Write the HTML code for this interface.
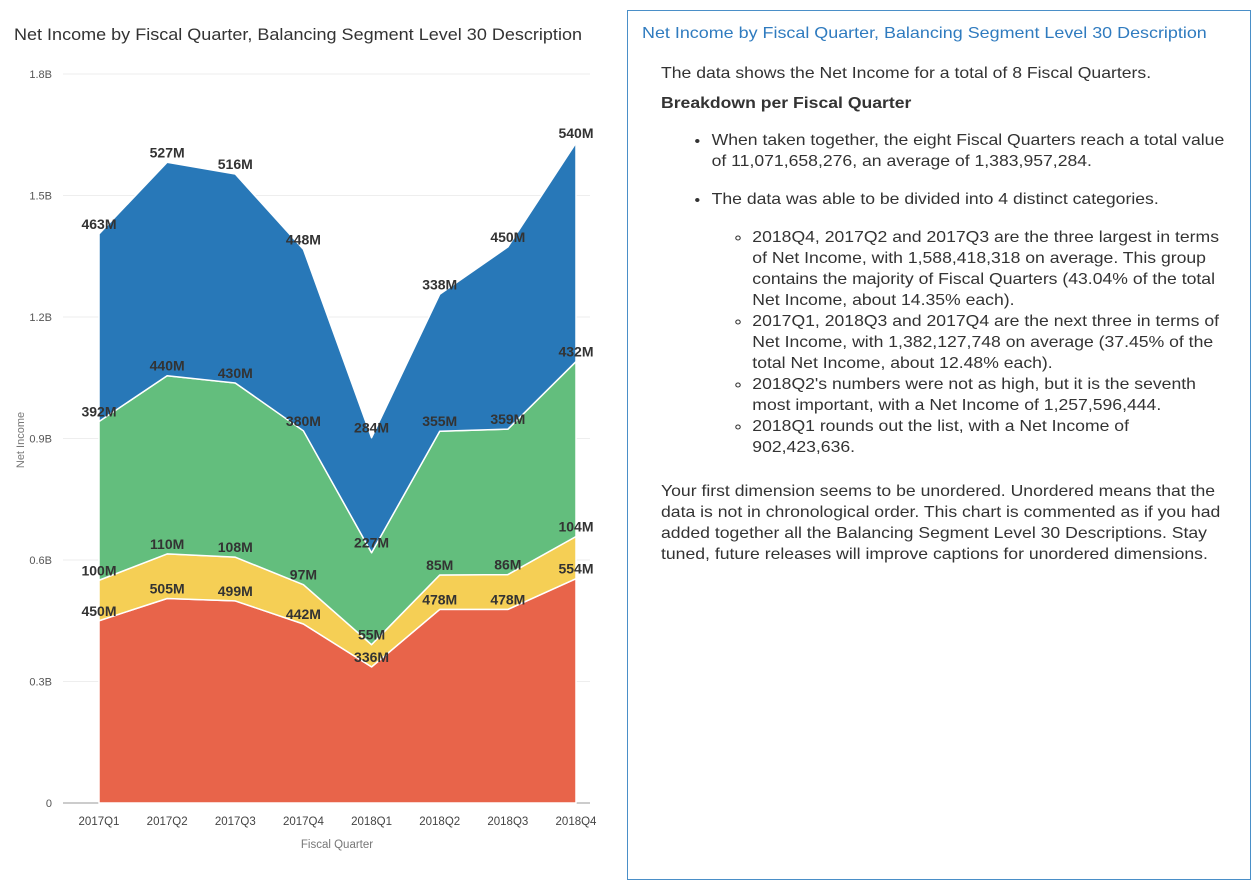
<!DOCTYPE html>
<html><head><meta charset="utf-8"><style>
body{margin:0;width:1256px;height:866px;background:#fff;overflow:hidden;font-family:"Liberation Sans",sans-serif;position:relative}
#panel{position:absolute;left:627px;top:10px;width:624px;height:870px;border:1.5px solid #4a8fc8;box-sizing:border-box;color:#333;font-size:16px;line-height:21px}
#panel .ttl{position:absolute;left:14px;top:12px;color:#2f7bbf;font-size:16px;transform:scaleX(1.12);transform-origin:0 0;white-space:nowrap}
#panel .body{position:absolute;left:33px;top:52px;width:527px;transform:scaleX(1.1);transform-origin:0 0}
#panel p{margin:0 0 9px 0}
#panel ul{margin:0 0 23px 0;padding-left:46px}
#panel ul li{margin-bottom:17px}
#panel ul ul{margin:17px 0 0 0;padding-left:37px;padding-right:6px;list-style:circle}
#panel ul ul li{margin:0}
</style></head><body>
<svg id="chart" width="620" height="866" style="position:absolute;left:0;top:0" font-family="Liberation Sans, sans-serif"></svg>
<div id="panel">
<div class="ttl">Net Income by Fiscal Quarter, Balancing Segment Level 30 Description</div>
<div class="body">
<p>The data shows the Net Income for a total of 8 Fiscal Quarters.</p>
<p style="margin-bottom:16px"><b>Breakdown per Fiscal Quarter</b></p>
<ul>
<li>When taken together, the eight Fiscal Quarters reach a total value of 11,071,658,276, an average of 1,383,957,284.</li>
<li>The data was able to be divided into 4 distinct categories.
<ul>
<li>2018Q4, 2017Q2 and 2017Q3 are the three largest in terms of Net Income, with 1,588,418,318 on average. This group contains the majority of Fiscal Quarters (43.04% of the total Net Income, about 14.35% each).</li>
<li>2017Q1, 2018Q3 and 2017Q4 are the next three in terms of Net Income, with 1,382,127,748 on average (37.45% of the total Net Income, about 12.48% each).</li>
<li>2018Q2's numbers were not as high, but it is the seventh most important, with a Net Income of 1,257,596,444.</li>
<li>2018Q1 rounds out the list, with a Net Income of 902,423,636.</li>
</ul></li>
</ul>
<p>Your first dimension seems to be unordered. Unordered means that the data is not in chronological order. This chart is commented as if you had added together all the Balancing Segment Level 30 Descriptions. Stay tuned, future releases will improve captions for unordered dimensions.</p>
</div></div>
<script>
const categories=["2017Q1","2017Q2","2017Q3","2017Q4","2018Q1","2018Q2","2018Q3","2018Q4"];
const seriesRed=[450,505,499,442,336,478,478,554];
const seriesYellow=[100,110,108,97,55,85,86,104];
const seriesGreen=[392,440,430,380,227,355,359,432];
const seriesBlue=[463,527,516,448,284,338,450,540];
const yTicks=[0,300,600,900,1200,1500,1800];
const yTickLabels=["0","0.3B","0.6B","0.9B","1.2B","1.5B","1.8B"];
const NS="http://www.w3.org/2000/svg";
const svg=document.getElementById('chart');
const x0=99,x1=576,yb=803,yt=74,ymax=1800;
const xs=i=>x0+(x1-x0)*i/(categories.length-1);
const ys=v=>yb-(yb-yt)*v/ymax;
function mk(t,a){const e=document.createElementNS(NS,t);for(const k in a)e.setAttribute(k,a[k]);svg.appendChild(e);return e;}
let t=mk('text',{x:14,y:40,'font-size':16.5,fill:'#333',textLength:568,lengthAdjust:'spacingAndGlyphs'});t.textContent="Net Income by Fiscal Quarter, Balancing Segment Level 30 Description";

yTicks.forEach((v,i)=>{
 const g=mk('line',{x1:63,x2:590,y1:ys(v),y2:ys(v),stroke:i==0?'#999':'#eee','stroke-width':1});
 
 const l=mk('text',{x:52,y:ys(v)+4,'font-size':11,fill:'#555','text-anchor':'end'});l.textContent=yTickLabels[i];
 
});
const series=[[seriesRed,'#e8644a','red'],[seriesYellow,'#f5cf55','yellow'],[seriesGreen,'#63be7d','green'],[seriesBlue,'#2878b8','blue']];
let base=categories.map(()=>0);
const labels=[];
series.forEach(([vals,col,nm])=>{
 const top=base.map((b,i)=>b+vals[i]);
 let d='M'+categories.map((c,i)=>xs(i)+','+ys(top[i])).join(' L');
 for(let i=categories.length-1;i>=0;i--)d+=' L'+xs(i)+','+ys(base[i]);
 const p=mk('path',{d:d+'Z',fill:col,stroke:'#fff','stroke-width':1.5,'stroke-linejoin':'round'});
 
 top.forEach((v,i)=>labels.push([i,v,vals[i]]));
 base=top;
});
labels.forEach(([i,v,val])=>{
 const l=mk('text',{x:xs(i),y:ys(v)-5,'font-size':14,'font-weight':'bold',fill:'#333','text-anchor':'middle'});
 l.textContent=val+'M';
 
});
categories.forEach((c,i)=>{
 const l=mk('text',{x:xs(i),y:825,'font-size':11.5,fill:'#444','text-anchor':'middle'});l.textContent=c;
 
});
t=mk('text',{x:337,y:848,'font-size':11.5,fill:'#777','text-anchor':'middle'});t.textContent="Fiscal Quarter";

t=mk('text',{x:24,y:440,'font-size':11,fill:'#777','text-anchor':'middle',transform:'rotate(-90 24 440)'});t.textContent="Net Income";

</script>
</body></html>
